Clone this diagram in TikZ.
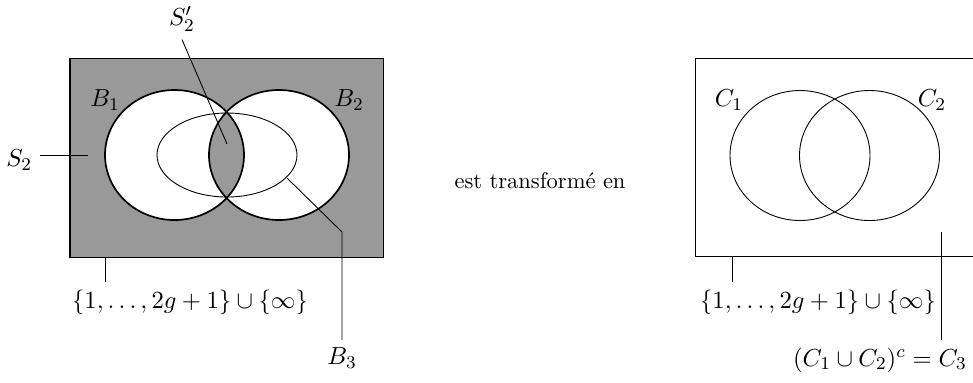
\documentclass[tikz,border=0pt]{standalone}
\usepackage{fontspec}
\begin{document}
\begin{tikzpicture}[x=0.4444pt,y=-0.4444pt,
  outline/.style={line width=0.75pt},
  thinline/.style={line width=0.4pt},
  boxline/.style={line width=0.45pt},
  lead/.style={line width=0.4pt},
  lbl/.style={font=\fontsize{11}{13}\selectfont}]
\useasboundingbox (0,0) rectangle (973,382);
\clip (0,0) rectangle (973,382);
% ---------- left picture ----------
\fill[black!40] (70,58) rectangle (383,257);
\fill[white, even odd rule] (174.5,155) ellipse [x radius=69.5, y radius=65]
                             (279,155) ellipse [x radius=70, y radius=65];
\draw[boxline] (70,58) rectangle (383,257);
\draw[thinline] (227,155) ellipse [x radius=70, y radius=42];
\draw[outline] (174.5,155) ellipse [x radius=69.5, y radius=65];
\draw[outline] (279,155) ellipse [x radius=70, y radius=65];

\node[lbl] (B1) at (105,100) {$B_1$};
\node[lbl] (B2) at (349,100) {$B_2$};

\node[lbl] (S2p) at (182,19) {$S'_2$};
\coordinate (s2pend) at (227,144);
\draw[lead] (S2p.south) -- (s2pend);

\node[lbl, anchor=east] (S2) at (40,160) {$S_2$};
\coordinate (s2end) at (88,155);
\draw[lead] (S2.east |- s2end) -- (s2end);

\coordinate (L1) at (105,257);
\node[lbl] (setL) at (190,302) {$\{1,\ldots,2g+1\}\cup\{\infty\}$};
\draw[lead] (L1) -- (L1 |- setL.north);

\coordinate (b3a) at (287,178);
\coordinate (b3b) at (342,232);
\node[lbl] (B3) at (342,358) {$B_3$};
\draw[lead] (b3a) -- (b3b) -- (B3.north);

% ---------- middle ----------
\node (mid) at (540,181) {est transformé en};

% ---------- right picture ----------
\draw[boxline] (695,58) rectangle (1008,256);
\draw[thinline] (800,155.5) ellipse [x radius=70, y radius=65];
\draw[thinline] (869.5,155.5) ellipse [x radius=70, y radius=65];
\node[lbl] (C1) at (729,100) {$C_1$};
\node[lbl] (C2) at (932,100) {$C_2$};

\coordinate (L2) at (732,256);
\node[lbl] (setR) at (818,302) {$\{1,\ldots,2g+1\}\cup\{\infty\}$};
\draw[lead] (L2) -- (L2 |- setR.north);

\coordinate (c3a) at (941,232);
\node[lbl] (C3) at (880,360) {$(C_1\cup C_2)^c=C_3$};
\draw[lead] (c3a) -- (c3a |- C3.north);
\end{tikzpicture}
\end{document}
